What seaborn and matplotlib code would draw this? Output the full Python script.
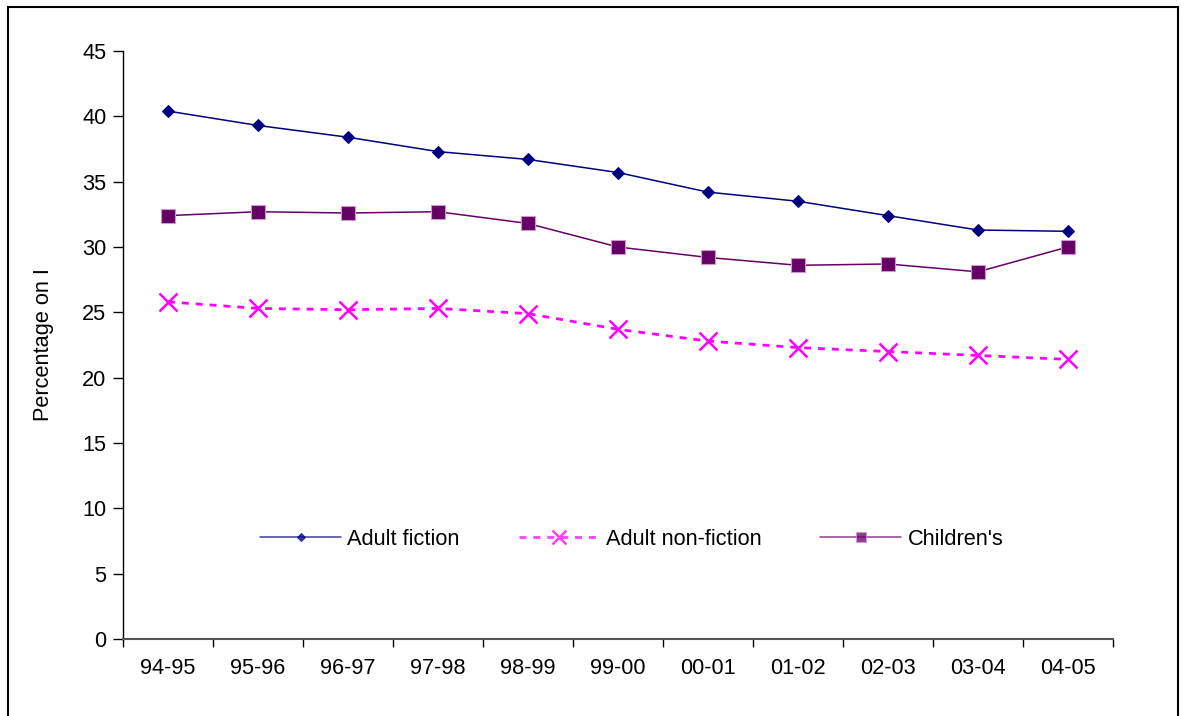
import seaborn as sns
import matplotlib.pyplot as plt
import pandas as pd
from matplotlib.patches import Rectangle

" DATA "
years = ['94-95', '95-96', '96-97', '97-98', '98-99', '99-00',
         '00-01', '01-02', '02-03', '03-04', '04-05']
adult_fiction = [40.4, 39.3, 38.4, 37.3, 36.7, 35.7, 34.2, 33.5, 32.4, 31.3, 31.2]
adult_nonfiction = [25.8, 25.3, 25.2, 25.3, 24.9, 23.7, 22.8, 22.3, 22.0, 21.7, 21.4]
childrens = [32.4, 32.7, 32.6, 32.7, 31.8, 30.0, 29.2, 28.6, 28.7, 28.1, 30.0]

sns.set_theme(style='white')
plt.rcParams['font.family'] = ['Liberation Sans', 'DejaVu Sans']
plt.rcParams.update({'text.color': 'black', 'axes.labelcolor': 'black',
                     'xtick.color': 'black', 'ytick.color': 'black'})
FS = 15.7

df = pd.DataFrame({'year': years,
                   'Adult fiction': adult_fiction,
                   'Adult non-fiction': adult_nonfiction,
                   "Children's": childrens})

fig = plt.figure(figsize=(11.84, 7.16), dpi=100)
ax = fig.add_axes([0.1039, 0.1075, 0.836, 0.8213])

sns.lineplot(data=df, x='year', y='Adult fiction', ax=ax, color='#000080',
             linewidth=1.1, marker='D', markersize=6, markeredgecolor='#000080',
             label='Adult fiction')
sns.lineplot(data=df, x='year', y='Adult non-fiction', ax=ax, color='#FF00FF',
             linewidth=2.0, linestyle=(0, (2.5, 2.5)), marker='x', markersize=13,
             markeredgewidth=1.8, markeredgecolor='#FF00FF', label='Adult non-fiction')
sns.lineplot(data=df, x='year', y="Children's", ax=ax, color='#660066',
             linewidth=1.1, marker='s', markersize=10, markeredgecolor='#CC99CC',
             markeredgewidth=0.8, label="Children's")

ax.set_xlim(-0.5, len(years) - 0.5)
ax.set_ylim(0, 45)
ax.set_yticks(range(0, 46, 5))
ax.set_xticks(range(len(years)))
ax.set_xticklabels(years)
ax.set_xticks([i - 0.5 for i in range(len(years) + 1)], minor=True)
ax.tick_params(axis='x', which='major', bottom=True, length=0, pad=14, labelsize=FS)
ax.tick_params(axis='x', which='minor', bottom=True, length=6, width=1, color='black',
               direction='out')
ax.tick_params(axis='y', which='major', left=True, length=7, width=1, color='black',
               direction='out', labelsize=FS, pad=5)
ax.set_xlabel('')
ax.set_ylabel('Percentage on I', fontsize=FS, labelpad=20)

for s in ['top', 'right']:
    ax.spines[s].set_visible(False)
ax.spines['left'].set_color('black')
ax.spines['bottom'].set_color('#555555')
ax.spines['bottom'].set_linewidth(1.5)
ax.spines['left'].set_linewidth(1)

leg = ax.legend(loc='center', bbox_to_anchor=(0.514, 0.17), ncol=3, frameon=False,
                fontsize=FS, handlelength=3.7, columnspacing=2.7, handletextpad=0.3)
for h in leg.legend_handles:
    h.set_alpha(0.75)
    h.set_markersize(h.get_markersize() * 0.75)

fig.patches.append(Rectangle((8 / 1184, -0.05), 1170 / 1184, 1 - 7 / 716 + 0.05,
                             transform=fig.transFigure, fill=False,
                             edgecolor='black', linewidth=1.5))

plt.savefig('out.png', dpi=100)
